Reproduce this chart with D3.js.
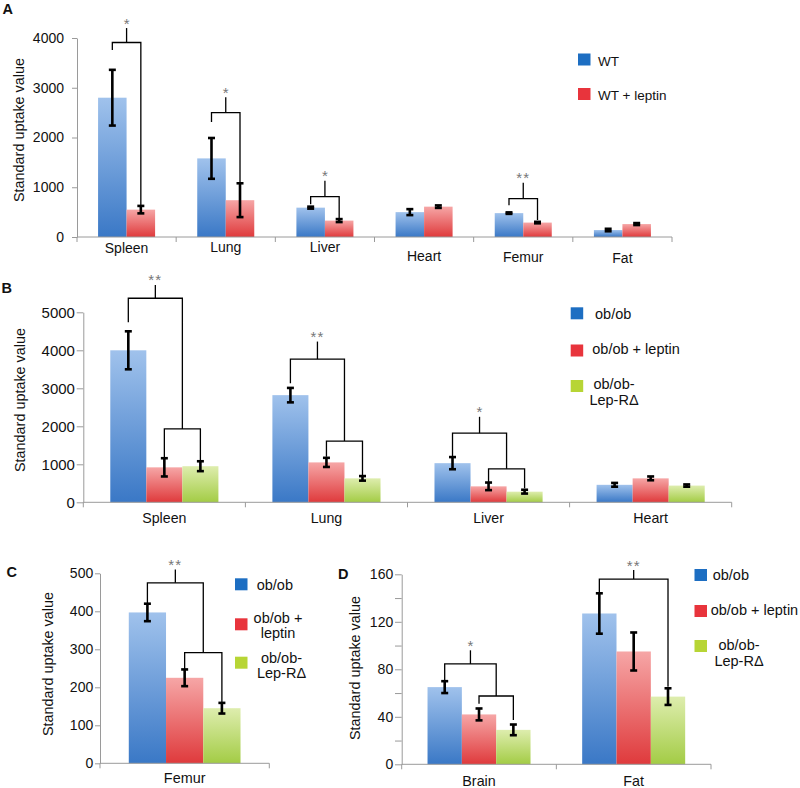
<!DOCTYPE html>
<html><head><meta charset="utf-8">
<script src="https://cdn.jsdelivr.net/npm/d3@7"></script>
<style>body{margin:0;background:#fff} svg text{font-family:Arial,"Liberation Sans",Helvetica,sans-serif;fill:#111}</style>
</head><body><svg id="chart" width="800" height="788"></svg>
<script>
// ---------------- DATA ----------------
// Panel A
const categoriesA = ["Spleen","Lung","Liver","Heart","Femur","Fat"];
const seriesA = ["WT","WT + leptin"];
const wtA = [2800,1580,590,500,480,140];
const wtErrA = [560,410,20,60,15,25];
const wtLeptinA = [550,740,330,610,290,260];
const wtLeptinErrA = [75,340,30,25,15,20];
const yTicksA = [0,1000,2000,3000,4000];
const sigA = [
  {cat:"Spleen", label:"*",  from:0, to:1, level:3910, left:3760, right:610,  top:4200},
  {cat:"Lung",   label:"*",  from:0, to:1, level:2500, left:2310, right:1090, top:2810},
  {cat:"Liver",  label:"*",  from:0, to:1, level:810,  left:660,  right:370,  top:1130},
  {cat:"Femur",  label:"**", from:0, to:1, level:770,  left:640,  right:340,  top:1090}
];
// Panels B-D series
const seriesOb = ["ob/ob","ob/ob + leptin","ob/ob-Lep-RΔ"];
// Panel B
const categoriesB = ["Spleen","Lung","Liver","Heart"];
const obB = [4000,2820,1030,460];
const obErrB = [500,190,160,50];
const obLeptinB = [920,1050,420,630];
const obLeptinErrB = [240,120,100,50];
const obLepRB = [950,630,280,440];
const obLepRErrB = [130,60,50,30];
const yTicksB = [0,1000,2000,3000,4000,5000];
const sigB = [
  {cat:"Spleen", label:"**", level:5370, left:4740, top:5720, inner:{level:1930, left:1180, right:1070}},
  {cat:"Lung",   label:"**", level:3770, left:3130, top:4230, inner:{level:1610, left:1200, right:680}},
  {cat:"Liver",  label:"*",  level:1820, left:1200, top:2250, inner:{level:880,  left:500,  right:370}}
];
// Panel C
const categoriesC = ["Femur"];
const obC = [397], obErrC = [23];
const obLeptinC = [225], obLeptinErrC = [22];
const obLepRC = [145], obLepRErrC = [14];
const yTicksC = [0,100,200,300,400,500];
const sigC = [
  {cat:"Femur", label:"**", level:475, left:422, top:510, inner:{level:291, left:247, right:161}}
];
// Panel D
const categoriesD = ["Brain","Fat"];
const obD = [65,127], obErrD = [5,17];
const obLeptinD = [42,95], obLeptinErrD = [5,16];
const obLepRD = [29,57], obLepRErrD = [4.5,7];
const yTicksD = [0,20,40,60,80,100,120,140,160];
const yLabelsD = [0,40,80,120,160];
const sigD = [
  {cat:"Brain", label:"*",  level:84.5, left:70.4, top:96, inner:{level:57.5, left:51, right:37.3}},
  {cat:"Fat",   label:"**", from:0, to:2, level:156, left:144.5, right:65.3, top:163.6}
];

// ---------------- DRAWING ----------------
const svg = d3.select("#chart");
const defs = svg.append("defs");
const grads = {
  blue:  ["#a0c2ec","#3a78c6"],
  red:   ["#f6a6a6","#df3a3c"],
  green: ["#deedae","#a3cc45"]
};
Object.entries(grads).forEach(([k,[c1,c2]]) => {
  const g = defs.append("linearGradient").attr("id","g-"+k).attr("x1",0).attr("y1",0).attr("x2",0).attr("y2",1);
  g.append("stop").attr("offset","0%").attr("stop-color",c1);
  g.append("stop").attr("offset","100%").attr("stop-color",c2);
});
const solid = {blue:"#1d6ec2", red:"#e8343c", green:"#b7d535"};
const axisColor = "#9a9a9a";

function drawPanel(cfg) {
  const g = svg.append("g");
  const y = d3.scaleLinear().domain([0, cfg.max]).range([cfg.y0, cfg.yTop]);
  const x0 = d3.scaleBand().domain(cfg.categories).range([cfg.left, cfg.right]);
  const bw = x0.bandwidth();
  const gw = bw * cfg.ratio;
  const x1 = d3.scaleBand().domain(d3.range(cfg.series.length)).range([(bw-gw)/2, (bw+gw)/2]);
  const barW = x1.bandwidth();
  const cx = (c, i) => x0(c) + x1(i) + barW/2;

  // bars
  cfg.series.forEach((s, i) => {
    g.selectAll(null).data(cfg.categories).enter().append("rect")
      .attr("x", c => x0(c) + x1(i))
      .attr("width", barW)
      .attr("y", (c, j) => y(s.values[j]))
      .attr("height", (c, j) => cfg.y0 - y(s.values[j]))
      .attr("fill", "url(#g-" + s.color + ")");
  });

  // y axis
  const ya = d3.axisLeft(y).tickValues(cfg.ticks).tickSize(cfg.tickSize).tickPadding(cfg.tickPad).tickSizeOuter(0)
    .tickFormat(d => (cfg.tickLabels ? (cfg.tickLabels.includes(d) ? d : "") : d));
  const yg = g.append("g").attr("transform", `translate(${cfg.left},0)`).call(ya);
  yg.select(".domain").attr("stroke", axisColor);
  yg.selectAll(".tick line").attr("stroke", axisColor);
  yg.selectAll(".tick text").attr("font-size", cfg.tickFont).attr("fill", "#111")
    .style("font-family", "Arial, 'Liberation Sans', sans-serif");

  // x axis
  g.append("line").attr("x1", cfg.left).attr("x2", cfg.right).attr("y1", cfg.y0).attr("y2", cfg.y0)
    .attr("stroke", axisColor);
  const bounds = cfg.categories.map(c => x0(c)).concat([cfg.right]);
  g.selectAll(null).data(bounds).enter().append("line")
    .attr("x1", d => d).attr("x2", d => d).attr("y1", cfg.y0).attr("y2", cfg.y0 + 5).attr("stroke", axisColor);
  g.selectAll(null).data(cfg.categories).enter().append("text")
    .attr("x", c => x0(c) + bw/2)
    .attr("y", (c, i) => cfg.y0 + (cfg.labelDy[i] !== undefined ? cfg.labelDy[i] : cfg.labelDy[0]))
    .attr("text-anchor", "middle").attr("font-size", cfg.catFont).text(c => c);

  // y title
  g.append("text").attr("transform", `translate(${cfg.titleX},${cfg.titleY}) rotate(-90)`)
    .attr("text-anchor", "middle").attr("dy", "0.35em").attr("font-size", 14.4).text("Standard uptake value");

  // error bars
  cfg.series.forEach((s, i) => {
    cfg.categories.forEach((c, j) => {
      const xx = cx(c, i), v = s.values[j], e = s.errs[j];
      const yt = y(v + e), yb = y(v - e);
      g.append("line").attr("x1", xx).attr("x2", xx).attr("y1", yt).attr("y2", yb)
        .attr("stroke", "#000").attr("stroke-width", 2.6);
      [yt, yb].forEach(yy => g.append("line").attr("x1", xx - 3.5).attr("x2", xx + 3.5)
        .attr("y1", yy).attr("y2", yy).attr("stroke", "#000").attr("stroke-width", 2.6));
    });
  });

  // significance brackets
  const bracket = (xl, xr, level, yl, yr) => {
    g.append("path").attr("d", `M${xl},${yl}V${level}H${xr}V${yr}`)
      .attr("fill", "none").attr("stroke", "#000").attr("stroke-width", 1.3);
  };
  cfg.sig.forEach(b => {
    let xl, xr, yr;
    if (b.inner) {
      const il = cx(b.cat, 1), ir = cx(b.cat, 2);
      bracket(il, ir, y(b.inner.level), y(b.inner.left), y(b.inner.right));
      xl = cx(b.cat, 0); xr = (il + ir) / 2; yr = y(b.inner.level);
    } else {
      xl = cx(b.cat, b.from); xr = cx(b.cat, b.to); yr = y(b.right);
    }
    bracket(xl, xr, y(b.level), y(b.left), yr);
    const xm = (xl + xr) / 2;
    g.append("line").attr("x1", xm).attr("x2", xm).attr("y1", y(b.level)).attr("y2", y(b.top))
      .attr("stroke", "#000").attr("stroke-width", 1.3);
    g.append("text").attr("x", xm).attr("y", y(b.top) + 0.5).attr("text-anchor", "middle")
      .attr("font-size", 15).attr("letter-spacing", b.label.length > 1 ? 1.2 : 0)
      .style("fill", "#777").text(b.label);
  });

  // legend
  cfg.legend.forEach((l, i) => {
    g.append("rect").attr("x", l.sx).attr("y", l.sy).attr("width", 12.5).attr("height", 12)
      .attr("fill", solid[cfg.series[i].color]);
    const t = g.append("text").attr("font-size", cfg.legendFont).attr("text-anchor", l.anchor || "start");
    l.lines.forEach((ln, k) => t.append("tspan").attr("x", l.tx).attr("y", l.ty[k]).text(ln));
  });

  // panel letter
  svg.append("text").attr("x", cfg.letterX).attr("y", cfg.letterY).attr("font-size", 14.5)
    .attr("font-weight", "bold").text(cfg.letter);
}

drawPanel({
  letter:"A", letterX:2.5, letterY:13.5,
  categories: categoriesA,
  series: [{values: wtA, errs: wtErrA, color:"blue"}, {values: wtLeptinA, errs: wtLeptinErrA, color:"red"}],
  max: 4000, ticks: yTicksA, left: 77, right: 672, y0: 237, yTop: 38, ratio: 0.575,
  tickSize: 5, tickPad: 8, tickFont: 14, catFont: 14, labelDy: [15.7, 14.7, 15.3, 24, 24.7, 26.3],
  titleX: 19, titleY: 130, sig: sigA, legendFont: 13.5,
  legend: [
    {sx:578, sy:53.5, tx:598, ty:[65.7], lines:[seriesA[0]]},
    {sx:578, sy:88, tx:598, ty:[100], lines:[seriesA[1]]}
  ]
});

drawPanel({
  letter:"B", letterX:1.5, letterY:293.3,
  categories: categoriesB,
  series: [{values: obB, errs: obErrB, color:"blue"}, {values: obLeptinB, errs: obLeptinErrB, color:"red"},
           {values: obLepRB, errs: obLepRErrB, color:"green"}],
  max: 5000, ticks: yTicksB, left: 83.3, right: 731.7, y0: 502.3, yTop: 312.3, ratio: 0.667,
  tickSize: 6.6, tickPad: 1.8, tickFont: 15, catFont: 14.2, labelDy: [20.3],
  titleX: 20, titleY: 400, sig: sigB, legendFont: 14.5,
  legend: [
    {sx:570.7, sy:307.3, tx:595, ty:[319.3], lines:["ob/ob"]},
    {sx:570.7, sy:344.5, tx:592.3, ty:[354.3], lines:["ob/ob + leptin"]},
    {sx:570.7, sy:380, tx:614, ty:[389, 404.5], lines:["ob/ob-", "Lep-RΔ"], anchor:"middle"}
  ]
});

drawPanel({
  letter:"C", letterX:6.5, letterY:577.3,
  categories: categoriesC,
  series: [{values: obC, errs: obErrC, color:"blue"}, {values: obLeptinC, errs: obLeptinErrC, color:"red"},
           {values: obLepRC, errs: obLepRErrC, color:"green"}],
  max: 500, ticks: yTicksC, left: 100, right: 269.3, y0: 763.3, yTop: 573.3, ratio: 0.66,
  tickSize: 5, tickPad: 1.8, tickFont: 14, catFont: 14.4, labelDy: [20],
  titleX: 48.3, titleY: 664, sig: sigC, legendFont: 14.5,
  legend: [
    {sx:235, sy:578.3, tx:256.7, ty:[589.7], lines:["ob/ob"]},
    {sx:235, sy:618.3, tx:278, ty:[622.5, 638], lines:["ob/ob +", "leptin"], anchor:"middle"},
    {sx:235, sy:656.7, tx:281.5, ty:[662.5, 678], lines:["ob/ob-", "Lep-RΔ"], anchor:"middle"}
  ]
});

drawPanel({
  letter:"D", letterX:338, letterY:579.3,
  categories: categoriesD,
  series: [{values: obD, errs: obErrD, color:"blue"}, {values: obLeptinD, errs: obLeptinErrD, color:"red"},
           {values: obLepRD, errs: obLepRErrD, color:"green"}],
  max: 160, ticks: yTicksD, tickLabels: yLabelsD, left: 401.7, right: 711, y0: 764.3, yTop: 574.3, ratio: 0.666,
  tickSize: 6.7, tickPad: 1.8, tickFont: 14, catFont: 14.3, labelDy: [21.7],
  titleX: 355, titleY: 668, sig: sigD, legendFont: 14.5,
  legend: [
    {sx:694.5, sy:569, tx:712.7, ty:[580], lines:["ob/ob"]},
    {sx:694.5, sy:605, tx:710.7, ty:[614.5], lines:["ob/ob + leptin"]},
    {sx:694.5, sy:640, tx:739, ty:[650, 665.5], lines:["ob/ob-", "Lep-RΔ"], anchor:"middle"}
  ]
});
</script>
</body></html>
